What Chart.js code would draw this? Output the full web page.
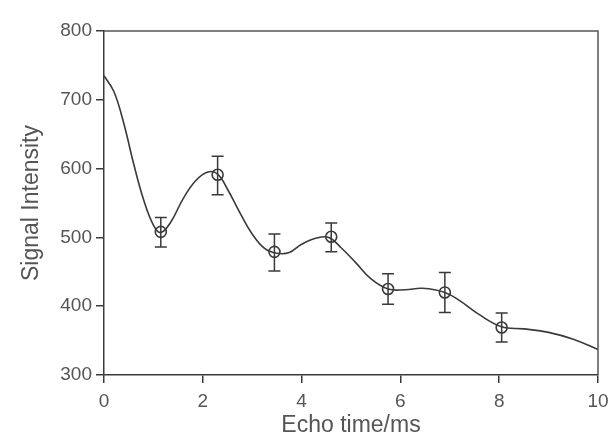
<!DOCTYPE html>
<html lang="en">
<head>
  <meta charset="UTF-8">
  <title>Signal intensity vs echo time</title>
  <script src="https://cdn.jsdelivr.net/npm/chart.js"></script>
  <style>
    html, body {
      margin: 0;
      padding: 0;
      background: #fff;
    }
    .wrap {
      width: 610px;
      height: 439px;
    }
  </style>
</head>
<body>
  <div class="wrap">
    <canvas id="echoChart" width="610" height="439"></canvas>
  </div>

  <script>
    // measured points with error bars
    const echoTimes = [1.15, 2.3, 3.45, 4.6, 5.75, 6.9, 8.05];
    const signalMeans = [508, 591, 479, 501, 425, 420, 369];
    const errUpper = [529, 618, 505, 521, 447, 449, 390];
    const errLower = [486, 562, 451, 479, 403, 391, 348];

    const curveTimes = [0, 0.2, 0.4, 0.6, 0.8, 1.0, 1.15, 1.35, 1.6, 1.85, 2.1, 2.3, 2.5, 2.75,
      3.0, 3.25, 3.5, 3.75, 4.0, 4.3, 4.55, 4.8, 5.1, 5.4, 5.75, 6.1, 6.45, 6.9, 7.2, 7.55,
      8.05, 8.5, 9.0, 9.5, 10];
    const curveValues = [735, 712, 666, 607, 555, 518, 507, 522, 556, 582, 595, 592, 570, 536,
      505, 484, 477, 478, 490, 499, 500, 485, 463, 440, 425, 424, 426, 420, 408, 390,
      370, 367, 362, 352, 337];

    const xTicks = [0, 2, 4, 6, 8, 10];
    const yTicks = [300, 400, 500, 600, 700, 800];

    const ink = '#3a3a3a';
    const labelGray = '#555';

    // vertical error bars with caps, drawn through the chart scales
    const errorBars = {
      id: 'errorBars',
      afterDatasetsDraw(chart) {
        const { ctx, scales: { x, y } } = chart;
        ctx.save();
        ctx.strokeStyle = ink;
        ctx.lineWidth = 1.5;
        echoTimes.forEach((t, i) => {
          const px = x.getPixelForValue(t);
          const top = y.getPixelForValue(errUpper[i]);
          const bot = y.getPixelForValue(errLower[i]);
          ctx.beginPath();
          ctx.moveTo(px, top);
          ctx.lineTo(px, bot);
          ctx.moveTo(px - 6, top);
          ctx.lineTo(px + 6, top);
          ctx.moveTo(px - 6, bot);
          ctx.lineTo(px + 6, bot);
          ctx.stroke();
        });
        ctx.restore();
      }
    };

    // top and right edges of the plot frame
    const frame = {
      id: 'frame',
      afterDraw(chart) {
        const { ctx, chartArea: a } = chart;
        ctx.save();
        ctx.strokeStyle = '#555';
        ctx.lineWidth = 1.5;
        ctx.beginPath();
        ctx.moveTo(a.left, a.top);
        ctx.lineTo(a.right, a.top);
        ctx.lineTo(a.right, a.bottom);
        ctx.stroke();
        ctx.restore();
      }
    };

    const ctx = document.getElementById('echoChart').getContext('2d');

    new Chart(ctx, {
      type: 'line',
      data: {
        datasets: [
          {
            label: 'Fit',
            data: curveTimes.map((t, i) => ({ x: t, y: curveValues[i] })),
            borderColor: ink,
            borderWidth: 1.6,
            pointRadius: 0,
            tension: 0.4,
            fill: false
          },
          {
            label: 'Measured',
            data: echoTimes.map((t, i) => ({ x: t, y: signalMeans[i] })),
            showLine: false,
            pointStyle: 'circle',
            pointRadius: 5.5,
            pointBorderWidth: 1.6,
            pointBorderColor: ink,
            pointBackgroundColor: 'rgba(0,0,0,0)'
          }
        ]
      },
      options: {
        responsive: false,
        animation: false,
        layout: {
          padding: { left: 0, right: 12, top: 31, bottom: 0 }
        },
        plugins: {
          legend: { display: false },
          tooltip: { enabled: false }
        },
        scales: {
          x: {
            type: 'linear',
            min: 0,
            max: 10,
            afterFit(scale) {
              scale.height = 64;
              scale.paddingLeft = 0;
              scale.paddingRight = 0;
            },
            afterBuildTicks(scale) { scale.ticks = xTicks.map(v => ({ value: v })); },
            border: { color: ink, width: 1.5 },
            grid: { drawOnChartArea: false, drawTicks: true, tickLength: 8, color: ink, lineWidth: 1.5 },
            ticks: {
              padding: 7,
              color: labelGray,
              font: { family: 'Liberation Sans, Arial, sans-serif', size: 19 }
            },
            title: {
              display: true,
              text: 'Echo time/ms',
              color: labelGray,
              padding: { top: 0, bottom: 0 },
              font: { family: 'Liberation Sans, Arial, sans-serif', size: 23 }
            }
          },
          y: {
            min: 300,
            max: 800,
            afterFit(scale) {
              scale.width = 104;
              scale.paddingTop = 0;
              scale.paddingBottom = 0;
            },
            afterBuildTicks(scale) { scale.ticks = yTicks.map(v => ({ value: v })); },
            border: { color: ink, width: 1.5 },
            grid: { drawOnChartArea: false, drawTicks: true, tickLength: 8, color: ink, lineWidth: 1.5 },
            ticks: {
              padding: 4,
              color: labelGray,
              font: { family: 'Liberation Sans, Arial, sans-serif', size: 19 }
            },
            title: {
              display: true,
              text: 'Signal Intensity',
              color: labelGray,
              padding: { top: 18, bottom: 0 },
              font: { family: 'Liberation Sans, Arial, sans-serif', size: 23 }
            }
          }
        }
      },
      plugins: [errorBars, frame]
    });
  </script>
</body>
</html>
